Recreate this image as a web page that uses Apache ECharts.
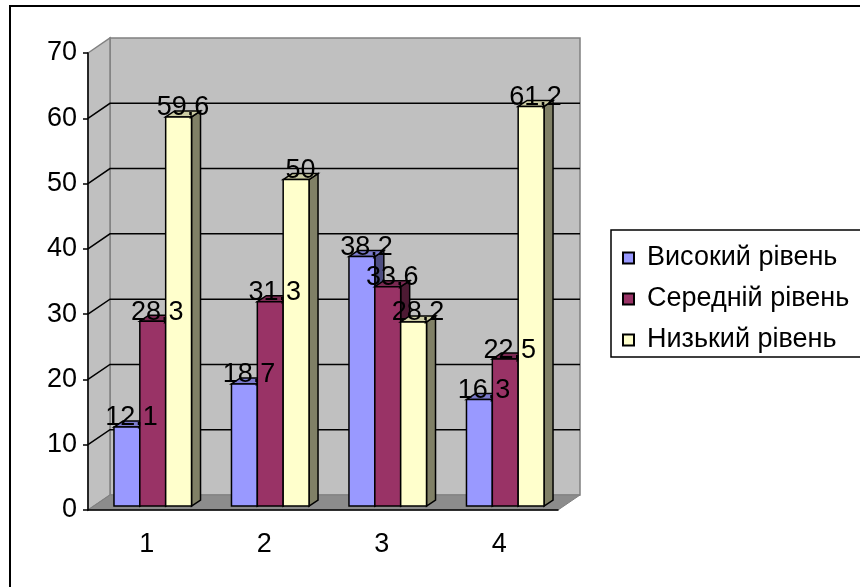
<!DOCTYPE html>
<html>
<head>
<meta charset="utf-8">
<script src="https://cdn.jsdelivr.net/npm/echarts@6/dist/echarts.min.js"></script>
<style>
    body { margin: 0; background: #fff; }
    #chart { width: 860px; height: 587px; }
</style>
</head>
<body>
<div id="chart"></div>
<script>
    var categories = ['1', '2', '3', '4'];
    var seriesNames = ['Високий рівень', 'Середній рівень', 'Низький рівень'];
    var highLevel = [12.1, 18.7, 38.2, 16.3];
    var midLevel = [28.3, 31.3, 33.6, 22.5];
    var lowLevel = [59.6, 50, 28.2, 61.2];
    var yTicks = [0, 10, 20, 30, 40, 50, 60, 70];

    var FONT = 'Liberation Sans, Arial, sans-serif';
    // 3d look: wall offset and bar depth (pixels)
    var WALL = [22, -15];
    var BAR_SHIFT = [6, -4];
    var BAR_DEPTH = [9, -6];

    var palettes = [
        {front: '#9999ff', top: '#7a7acc', side: '#4d4d80'},
        {front: '#993366', top: '#7a2952', side: '#4d1a33'},
        {front: '#ffffcc', top: '#cccca3', side: '#808066'}
    ];

    function plotBox(api) {
        var c0 = api.coord([0, 0]);
        var catW = api.size([1, 0])[0];
        var left = c0[0] - catW / 2;
        return {
            left: left,
            right: left + catW * categories.length,
            bottom: c0[1],
            top: api.coord([0, yTicks[yTicks.length - 1]])[1]
        };
    }

    function renderFrame(params, api) {
        var b = plotBox(api);
        var dx = WALL[0], dy = WALL[1];
        return {
            type: 'group',
            children: [
                {
                    type: 'rect',
                    shape: {x: b.left + dx, y: b.top + dy, width: b.right - b.left, height: b.bottom - b.top},
                    style: {fill: '#c0c0c0', stroke: '#808080', lineWidth: 1.5}
                },
                {
                    type: 'polygon',
                    shape: {points: [[b.left, b.top], [b.left + dx, b.top + dy], [b.left + dx, b.bottom + dy], [b.left, b.bottom]]},
                    style: {fill: '#c0c0c0', stroke: '#808080', lineWidth: 1.5}
                },
                {
                    type: 'polygon',
                    shape: {points: [[b.left, b.bottom], [b.left + dx, b.bottom + dy], [b.right + dx, b.bottom + dy], [b.right, b.bottom]]},
                    style: {fill: '#8c8c8c', stroke: '#808080', lineWidth: 1}
                }
            ]
        };
    }

    function renderGridLine(params, api) {
        var b = plotBox(api);
        var y = api.coord([0, api.value(0)])[1];
        return {
            type: 'polyline',
            shape: {points: [[b.left, y], [b.left + WALL[0], y + WALL[1]], [b.right + WALL[0], y + WALL[1]]]},
            style: {stroke: '#000', lineWidth: 1.5, fill: null}
        };
    }

    function makeBarRender(k) {
        var pal = palettes[k];
        return function (params, api) {
            var cat = api.value(0), v = api.value(1);
            var catW = api.size([1, 0])[0];
            var bw = catW * 0.22;
            var topPt = api.coord([cat, v]);
            var basePt = api.coord([cat, 0]);
            var x = topPt[0] + (k - 1) * bw - bw / 2 + BAR_SHIFT[0];
            var top = topPt[1] + BAR_SHIFT[1];
            var base = basePt[1] + BAR_SHIFT[1];
            var ddx = BAR_DEPTH[0], ddy = BAR_DEPTH[1];
            var edge = {stroke: '#000', lineWidth: 1.5};
            return {
                type: 'group',
                children: [
                    {
                        type: 'polygon',
                        shape: {points: [[x + bw, top], [x + bw + ddx, top + ddy], [x + bw + ddx, base + ddy], [x + bw, base]]},
                        style: Object.assign({fill: pal.side}, edge)
                    },
                    {
                        type: 'polygon',
                        shape: {points: [[x, top], [x + ddx, top + ddy], [x + bw + ddx, top + ddy], [x + bw, top]]},
                        style: Object.assign({fill: pal.top}, edge)
                    },
                    {
                        type: 'rect',
                        shape: {x: x, y: top, width: bw, height: base - top},
                        style: Object.assign({fill: pal.front}, edge)
                    },
                    {
                        type: 'text',
                        z2: 100,
                        style: {
                            text: String(v).replace('.', ','),
                            x: x + bw / 2 + ddx / 2,
                            y: top - 9,
                            fill: '#000',
                            fontSize: 27,
                            fontFamily: FONT,
                            align: 'center',
                            verticalAlign: 'middle'
                        }
                    }
                ]
            };
        };
    }

    var chart = echarts.init(document.getElementById('chart'));
    var values = [highLevel, midLevel, lowLevel];

    var series = [
        {type: 'custom', name: 'frame', z: 1, silent: true, renderItem: renderFrame, data: [[0]]},
        {type: 'custom', name: 'grid', z: 2, silent: true, renderItem: renderGridLine,
            data: yTicks.slice(1, yTicks.length - 1).map(function (t) { return [t]; })}
    ];
    values.forEach(function (arr, k) {
        series.push({
            type: 'custom',
            name: seriesNames[k],
            z: 3,
            renderItem: makeBarRender(k),
            itemStyle: {color: palettes[k].front, borderColor: '#000', borderWidth: 1},
            data: arr.map(function (v, i) { return [i, v]; })
        });
    });

    chart.setOption({
        animation: false,
        backgroundColor: '#fff',
        textStyle: {fontFamily: FONT},
        graphic: [
            {type: 'rect', shape: {x: 10, y: 6, width: 900, height: 700}, style: {fill: null, stroke: '#000', lineWidth: 2}, z: -10},
            {type: 'rect', shape: {x: 611, y: 230, width: 300, height: 127}, style: {fill: null, stroke: '#000', lineWidth: 1.5}}
        ],
        legend: {
            orient: 'vertical',
            left: 622,
            top: 243,
            padding: 0,
            itemWidth: 11,
            itemHeight: 11,
            itemGap: 11,
            icon: 'rect',
            data: seriesNames,
            textStyle: {fontSize: 27, lineHeight: 30, color: '#000', fontFamily: FONT, padding: [0, 0, 0, 8]}
        },
        grid: {left: 88, top: 53, width: 470, height: 457},
        xAxis: {
            type: 'category',
            data: categories,
            z: 10,
            axisLine: {lineStyle: {color: '#000', width: 1.5}},
            axisTick: {length: 7, lineStyle: {color: '#000', width: 1.5}},
            axisLabel: {fontSize: 27, color: '#000', margin: 21, fontFamily: FONT},
            splitLine: {show: false}
        },
        yAxis: {
            type: 'value',
            min: 0,
            max: 70,
            interval: 10,
            z: 10,
            axisLine: {show: true, lineStyle: {color: '#000', width: 1.5}},
            axisTick: {show: true, length: 5, lineStyle: {color: '#000', width: 1.5}},
            axisLabel: {fontSize: 27, color: '#000', margin: 11, fontFamily: FONT},
            splitLine: {show: false}
        },
        series: series
    });
</script>
</body>
</html>
